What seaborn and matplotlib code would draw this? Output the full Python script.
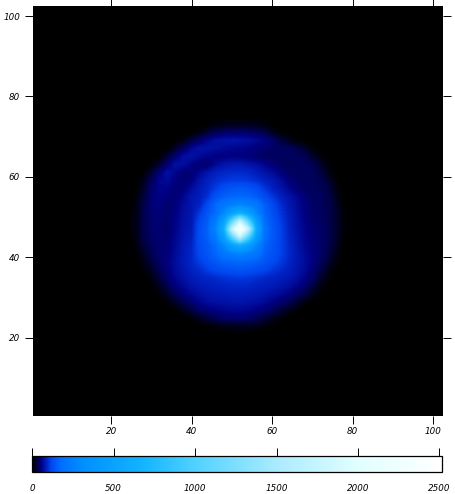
import numpy as np
import seaborn as sns
import matplotlib.pyplot as plt
from matplotlib.colors import LinearSegmentedColormap

# colour stops
stop_values = [0, 25, 55, 85, 115, 176, 320, 680, 1000, 1500, 2000, 2514]
stop_colors = [(0, 0, 0), (0, 0, 60), (0, 0, 130), (0, 30, 190), (0, 70, 240), (0, 110, 255), (0, 145, 255),
               (20, 180, 255), (80, 210, 255), (170, 235, 255), (225, 255, 255), (255, 255, 255)]
vmax = 2514

n_cells = 102
x_ticks = [20, 40, 60, 80, 100]
y_ticks = [20, 40, 60, 80, 100]
bar_ticks = [0, 500, 1000, 1500, 2000, 2500]

# brightness read every 2 cells, x = 26..78, y = 73..21
x_samples = list(range(26, 80, 2))
y_samples = list(range(73, 19, -2))
field = [
    [0, 0, 0, 0, 0, 0, 0, 0, 0, 0, 5, 8, 10, 10, 10, 8, 5, 0, 0, 0, 0, 0, 0, 0, 0, 0, 0],
    [0, 0, 0, 0, 0, 0, 0, 0, 8, 22, 35, 42, 45, 45, 45, 40, 30, 15, 3, 0, 0, 0, 0, 0, 0, 0, 0],
    [0, 0, 0, 0, 0, 0, 8, 28, 45, 62, 72, 74, 76, 74, 70, 66, 58, 46, 30, 15, 3, 0, 0, 0, 0, 0, 0],
    [0, 0, 0, 0, 0, 20, 42, 64, 74, 74, 70, 66, 62, 60, 58, 54, 48, 44, 42, 40, 33, 20, 5, 0, 0, 0, 0],
    [0, 0, 0, 3, 24, 50, 70, 74, 66, 60, 54, 55, 55, 55, 52, 46, 42, 40, 40, 42, 42, 36, 20, 5, 0, 0, 0],
    [0, 0, 3, 22, 50, 72, 70, 58, 48, 48, 64, 76, 80, 80, 76, 70, 62, 50, 42, 38, 40, 42, 38, 20, 5, 0, 0],
    [0, 2, 22, 50, 72, 62, 50, 48, 62, 76, 88, 92, 94, 94, 92, 85, 76, 68, 54, 44, 40, 40, 40, 28, 10, 0, 0],
    [0, 10, 38, 62, 66, 54, 48, 55, 74, 88, 96, 102, 108, 108, 104, 98, 88, 80, 70, 54, 44, 40, 40, 36, 22, 4, 0],
    [0, 18, 45, 60, 58, 50, 52, 68, 82, 90, 110, 130, 140, 145, 140, 128, 105, 88, 76, 64, 50, 42, 40, 38, 28, 8, 0],
    [3, 25, 48, 58, 52, 50, 62, 78, 84, 100, 135, 155, 165, 170, 165, 150, 125, 105, 88, 76, 64, 50, 42, 40, 32, 12, 0],
    [5, 30, 50, 55, 48, 52, 68, 78, 88, 125, 170, 215, 250, 280, 250, 215, 155, 122, 98, 80, 68, 54, 45, 40, 34, 16, 2],
    [7, 32, 48, 52, 46, 55, 70, 78, 105, 140, 175, 280, 470, 600, 470, 280, 165, 130, 105, 85, 70, 56, 46, 42, 35, 18, 3],
    [8, 32, 46, 50, 46, 58, 72, 80, 120, 150, 230, 470, 1050, 1700, 1050, 470, 180, 140, 110, 88, 72, 58, 48, 42, 35, 20, 3],
    [8, 32, 46, 48, 46, 60, 74, 82, 128, 158, 270, 600, 1700, 2500, 1700, 600, 200, 145, 115, 90, 74, 60, 50, 44, 35, 20, 3],
    [7, 30, 44, 48, 48, 62, 76, 85, 128, 155, 230, 470, 1050, 1700, 1050, 470, 185, 145, 115, 92, 76, 62, 52, 45, 35, 18, 2],
    [4, 25, 40, 48, 50, 64, 80, 90, 125, 145, 175, 280, 470, 600, 470, 280, 165, 140, 115, 95, 78, 64, 54, 45, 33, 15, 1],
    [1, 16, 35, 48, 52, 66, 80, 92, 120, 140, 165, 215, 250, 280, 250, 215, 155, 135, 115, 95, 80, 66, 55, 45, 30, 10, 0],
    [0, 8, 27, 44, 55, 68, 82, 92, 110, 128, 145, 158, 165, 170, 165, 155, 140, 125, 108, 92, 80, 68, 55, 42, 22, 5, 0],
    [0, 3, 18, 36, 52, 68, 78, 88, 96, 110, 122, 130, 136, 140, 135, 128, 118, 105, 96, 88, 78, 66, 52, 33, 12, 2, 0],
    [0, 0, 8, 27, 46, 62, 74, 82, 88, 92, 96, 100, 104, 106, 104, 98, 94, 90, 85, 80, 72, 60, 44, 22, 5, 0, 0],
    [0, 0, 2, 15, 36, 54, 66, 76, 82, 85, 88, 90, 92, 92, 92, 88, 85, 82, 77, 72, 62, 48, 30, 10, 0, 0, 0],
    [0, 0, 0, 4, 20, 40, 54, 64, 72, 78, 80, 82, 84, 84, 84, 80, 77, 72, 66, 58, 46, 32, 14, 2, 0, 0, 0],
    [0, 0, 0, 0, 5, 20, 36, 50, 62, 70, 72, 74, 76, 76, 74, 72, 66, 58, 50, 38, 24, 10, 1, 0, 0, 0, 0],
    [0, 0, 0, 0, 0, 3, 15, 28, 44, 52, 58, 62, 64, 64, 62, 56, 50, 40, 28, 16, 5, 0, 0, 0, 0, 0, 0],
    [0, 0, 0, 0, 0, 0, 0, 6, 16, 28, 38, 45, 48, 50, 46, 38, 28, 16, 6, 0, 0, 0, 0, 0, 0, 0, 0],
    [0, 0, 0, 0, 0, 0, 0, 0, 0, 3, 8, 12, 14, 15, 14, 12, 8, 3, 0, 0, 0, 0, 0, 0, 0, 0, 0],
    [0, 0, 0, 0, 0, 0, 0, 0, 0, 0, 0, 0, 0, 3, 0, 0, 0, 0, 0, 0, 0, 0, 0, 0, 0, 0, 0],
]

sns.set_style('white')
plt.rcParams['font.family'] = 'DejaVu Sans'
plt.rcParams['text.color'] = 'black'
plt.rcParams['xtick.labelcolor'] = 'black'
plt.rcParams['ytick.labelcolor'] = 'black'

W, H = 455, 494
fig = plt.figure(figsize=(W / 100, H / 100), dpi=100)
ax = fig.add_axes([33 / W, 1 - 416 / H, 410 / W, 410 / H])
cax = fig.add_axes([32.3 / W, 1 - 472 / H, 409.4 / W, 16 / H])

cmap = LinearSegmentedColormap.from_list(
    'glow', [(v / vmax, tuple(c / 255 for c in col)) for v, col in zip(stop_values, stop_colors)], N=1024)

# black background cells and the colour bar come from the heatmap
sns.heatmap(np.zeros((n_cells, n_cells)), ax=ax, cmap=cmap, vmin=0, vmax=vmax, cbar_ax=cax,
            cbar_kws={'orientation': 'horizontal'}, xticklabels=False, yticklabels=False, square=False)

# heatmap cell for x sits at x - 0.5, for y at n_cells - y + 0.5
left = x_samples[0] - 1.5
right = x_samples[-1] + 0.5
top = n_cells - y_samples[0] - 0.5
bottom = n_cells - y_samples[-1] + 1.5
ax.imshow(np.array(field, dtype=float), extent=(left, right, bottom, top), cmap=cmap, vmin=0, vmax=vmax,
          interpolation='bilinear', aspect='auto', zorder=2)
ax.set_xlim(0, n_cells)
ax.set_ylim(n_cells, 0)

ax.set_xticks([t - 0.5 for t in x_ticks])
ax.set_xticklabels(x_ticks, fontsize=6.3, style='italic')
ax.set_yticks([n_cells - t + 0.5 for t in y_ticks])
ax.set_yticklabels(y_ticks, fontsize=6.3, style='italic')
ax.tick_params(axis='both', which='major', direction='out', length=5.8, width=0.7, color='black', pad=3.5,
               top=True, bottom=True, left=True, right=True, labeltop=False, labelright=False)
ax.tick_params(axis='x', pad=2)
for s in ax.spines.values():
    s.set_visible(False)

cbar = ax.collections[0].colorbar
cbar.set_ticks(bar_ticks)
cbar.set_ticklabels(bar_ticks)
cax.tick_params(axis='x', direction='out', length=5.8, width=0.7, color='black', top=True, bottom=False,
                labeltop=False, labelbottom=True, labelsize=6.3, pad=2.5)
for lab in cax.get_xticklabels():
    lab.set_style('italic')
cbar.outline.set_edgecolor('black')
cbar.outline.set_linewidth(0.9)
cbar.outline.set_visible(True)

plt.savefig('out.png', dpi=100)
